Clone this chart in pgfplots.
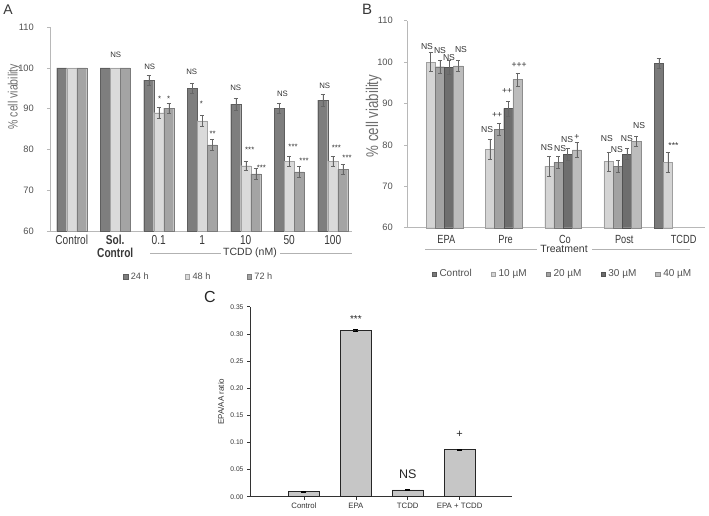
\documentclass[border=0pt]{standalone}
\usepackage{pgfplots}
\pgfplotsset{compat=1.18}
\usepackage{fontspec}
\setmainfont{Liberation Sans}
\newfontfamily\nf{Liberation Sans}[FakeStretch=0.78]
\newcommand{\fs}[1]{\fontsize{#1}{#1}\selectfont}
\definecolor{txt}{HTML}{505050}
\definecolor{lab}{HTML}{383838}
\definecolor{ylab}{HTML}{6E6E6E}
\definecolor{ann}{HTML}{333333}
\definecolor{h24}{HTML}{7E7E7E}
\definecolor{h48}{HTML}{DADADA}
\definecolor{h72}{HTML}{A4A4A4}
\definecolor{bCtl}{HTML}{7A7A7A}
\definecolor{b10}{HTML}{D4D4D4}
\definecolor{b20}{HTML}{A2A2A2}
\definecolor{b30}{HTML}{6E6E6E}
\definecolor{b40}{HTML}{BCBCBC}
\definecolor{cbar}{HTML}{C6C6C6}
\pgfplotsset{
  ebar/.style={/pgfplots/error bars/y dir=both, /pgfplots/error bars/y explicit,
    /pgfplots/error bars/error bar style={line width=0.45pt, black!60},
    /pgfplots/error bars/error mark options={rotate=90, mark size=2pt, line width=0.45pt, black!60}},
  sqleg/.style={/pgfplots/legend image code/.code={\draw[##1,line width=0.3pt] (0pt,-2.3pt) rectangle (4.6pt,2.3pt);}},
  excel/.style={scale only axis, anchor=south west, ybar,
    axis x line*=bottom, axis y line*=left,
    axis line style={black!28, line width=0.5pt},
    ytick={60,70,80,90,100,110}, ymin=60, ymax=110,
    tick align=outside, major tick length=3pt,
    ytick style={black!28, line width=0.5pt}, xtick style={draw=none},
    /pgf/number format/assume math mode=true,
    xticklabel style={anchor=north, inner sep=0pt},
    clip=false},
}
\begin{document}
\begin{tikzpicture}
\path[use as bounding box] (0pt,0pt) rectangle (709pt,515pt);

% ---------------- Panel A ----------------
\begin{axis}[excel, at={(50pt,284pt)}, width=302.3pt, height=204pt,
  xmin=-0.5, xmax=6.45, bar width=10pt,
  yticklabel style={font=\fs{9.3}, text=txt, anchor=east, inner sep=0pt, xshift=-13pt},
  xtick={0,...,6},
  xticklabels={Control,{\bfseries Sol.\\\bfseries Control},0.1,1,10,50,100},
  xticklabel style={font=\nf\fs{13}, text=lab, align=center, yshift=-1pt},
  ylabel={\% cell viability},
  ylabel style={at={(axis description cs:-0.119,0.658)}, anchor=center, font=\nf\fs{13.5}, text=ylab},
  legend columns=3,
  legend style={at={(axis description cs:0.49,-0.225)}, anchor=center, draw=none, fill=none,
    font=\fs{9.2}, text=txt, nodes={inner sep=1pt},
    /tikz/every odd column/.append style={column sep=2pt},
    /tikz/every even column/.append style={column sep=35pt}},
]
\addplot[forget plot, bar shift=-10pt, fill=h24, draw=h24!75!black, line width=0.3pt] coordinates {(0,100) (1,100)};
\addplot[forget plot, bar shift=0pt, fill=h48, draw=h48!75!black, line width=0.3pt] coordinates {(0,100) (1,100)};
\addplot[forget plot, bar shift=10pt, fill=h72, draw=h72!75!black, line width=0.3pt] coordinates {(0,100) (1,100)};
\addplot[bar shift=-10pt, fill=h24, draw=h24!75!black, line width=0.3pt, sqleg, ebar] coordinates
  {(2,97.0)+-(0,1.2) (3,95.0)+-(0,1.3) (4,91.1)+-(0,1.4) (5,90.1)+-(0,1.3) (6,92.1)+-(0,1.4)};
\addplot[bar shift=0pt, fill=h48, draw=h48!75!black, line width=0.3pt, sqleg, ebar] coordinates
  {(2,89.0)+-(0,1.3) (3,87.0)+-(0,1.4) (4,76.0)+-(0,1.2) (5,77.1)+-(0,1.3) (6,77.1)+-(0,1.3)};
\addplot[bar shift=10pt, fill=h72, draw=h72!75!black, line width=0.3pt, sqleg, ebar] coordinates
  {(2,90.1)+-(0,1.2) (3,81.1)+-(0,1.4) (4,74.0)+-(0,1.3) (5,74.5)+-(0,1.3) (6,75.1)+-(0,1.3)};
\legend{24 h, 48 h, 72 h}
\begin{scope}[every node/.style={font=\fs{7.8}, text=ann, inner sep=0pt}]
\node at (axis cs:1.01,103.3) {NS};
\node at (axis cs:1.793,100.3) {NS};
\node at (axis cs:2.023,92.4) {*};
\node at (axis cs:2.23,92.4) {*};
\node at (axis cs:2.759,99.0) {NS};
\node at (axis cs:2.982,91.2) {*};
\node at (axis cs:3.241,83.7) {**};
\node at (axis cs:3.770,95.0) {NS};
\node at (axis cs:4.092,80.0) {***};
\node at (axis cs:4.361,75.5) {***};
\node at (axis cs:4.844,93.6) {NS};
\node at (axis cs:5.087,80.7) {***};
\node at (axis cs:5.340,77.1) {***};
\node at (axis cs:5.816,95.7) {NS};
\node at (axis cs:6.085,80.4) {***};
\node at (axis cs:6.329,77.9) {***};
\end{scope}
\end{axis}

% ---------------- Panel B ----------------
\begin{axis}[excel, at={(407pt,287.3pt)}, width=298pt, height=207pt,
  xmin=-0.553, xmax=4.47, bar width=9.2pt,
  yticklabel style={font=\fs{9.3}, text=txt, anchor=east, inner sep=0pt, xshift=-11pt},
  xtick={0,...,4},
  xticklabels={EPA,Pre,Co,Post,TCDD},
  xticklabel style={font=\nf\fs{11.8}, text=lab, xshift=6.5pt, yshift=-4pt},
  ylabel={\% cell viability},
  ylabel style={at={(axis description cs:-0.112,0.54)}, anchor=center, font=\nf\fs{17}, text=ylab},
  legend columns=5,
  legend style={at={(axis description cs:0.52,-0.224)}, anchor=center, draw=none, fill=none,
    font=\fs{10}, text=txt, nodes={inner sep=1pt},
    /tikz/every odd column/.append style={column sep=2pt},
    /tikz/every even column/.append style={column sep=18pt}},
]
\addplot[bar shift=-18.4pt, fill=bCtl, draw=bCtl!75!black, line width=0.3pt, sqleg, ebar] coordinates
  {(4,99.7)+-(0,1.2)};
\addplot[bar shift=-9.2pt, fill=b10, draw=b10!75!black, line width=0.3pt, sqleg, ebar] coordinates
  {(0,100.0)+-(0,2.3) (1,78.9)+-(0,2.4) (2,74.9)+-(0,2.4) (3,76.0)+-(0,2.3) (4,75.8)+-(0,2.4)};
\addplot[bar shift=0pt, fill=b20, draw=b20!75!black, line width=0.3pt, sqleg, ebar] coordinates
  {(0,98.9)+-(0,1.6) (1,83.8)+-(0,1.4) (2,75.8)+-(0,1.5) (3,74.9)+-(0,1.5)};
\addplot[bar shift=9.2pt, fill=b30, draw=b30!75!black, line width=0.3pt, sqleg, ebar] coordinates
  {(0,98.7)+-(0,1.7) (1,88.8)+-(0,1.8) (2,77.8)+-(0,1.4) (3,77.8)+-(0,1.3)};
\addplot[bar shift=18.4pt, fill=b40, draw=b40!75!black, line width=0.3pt, sqleg, ebar] coordinates
  {(0,99.1)+-(0,1.3) (1,95.8)+-(0,1.6) (2,78.8)+-(0,1.8) (3,80.9)+-(0,1.3)};
\legend{Control, 10 µM, 20 µM, 30 µM, 40 µM}
\begin{scope}[every node/.style={font=\fs{8.6}, text=ann, inner sep=0pt}]
\node at (axis cs:-0.216,103.7) {NS};
\node at (axis cs:0.003,102.8) {NS};
\node at (axis cs:0.155,101.2) {NS};
\node at (axis cs:0.357,103.1) {NS};
\node at (axis cs:0.796,83.8) {NS};
\node at (axis cs:0.965,87.3) {++};
\node at (axis cs:1.133,93.1) {++};
\node at (axis cs:1.336,99.2) {+++};
\node at (axis cs:1.803,79.4) {NS};
\node at (axis cs:2.027,79.2) {NS};
\node at (axis cs:2.145,81.4) {NS};
\node at (axis cs:2.309,81.8) {+};
\node at (axis cs:2.815,81.6) {NS};
\node at (axis cs:2.983,78.8) {NS};
\node at (axis cs:3.152,81.6) {NS};
\node at (axis cs:3.359,84.6) {NS};
\node at (axis cs:3.938,79.8) {***};
\end{scope}
\end{axis}

% ---------------- Panel C ----------------
\begin{axis}[scale only axis, anchor=south west, at={(250pt,18.3pt)}, width=261.6pt, height=190pt,
  ybar, bar width=31pt, bar shift=0pt,
  xmin=-1.04, xmax=4.0, ymin=0, ymax=0.35,
  ytick={0,0.05,0.10,0.15,0.20,0.25,0.30,0.35},
  xtick={0,1,2,3}, xticklabels={Control,EPA,TCDD,EPA + TCDD},
  axis x line*=bottom, axis y line*=left,
  axis line style={black!80, line width=0.6pt},
  tick align=outside, major tick length=3pt,
  tick style={black!80, line width=0.6pt},
  /pgf/number format/assume math mode=true,
  yticklabel style={font=\fs{6.7}, text=black!80, /pgf/number format/.cd, fixed, fixed zerofill, precision=2},
  xticklabel style={font=\fs{7.8}, text=black!80},
  ylabel={EPA/AA ratio},
  ylabel style={at={(axis description cs:-0.111,0.5)}, anchor=center, font=\fs{8}, text=black!80},
  clip=false,
]
\addplot[fill=cbar, draw=black!85, line width=0.6pt,
  error bars/.cd, y dir=both, y explicit,
  error bar style={black, line width=0.6pt},
  error mark options={rotate=90, mark size=2.5pt, black, line width=0.6pt}]
  coordinates {(0,0.0098)+-(0,0.0008) (1,0.307)+-(0,0.0015) (2,0.0125)+-(0,0.0008) (3,0.087)+-(0,0.0008)};
\node[font=\fs{10}, text=black!85] at (axis cs:1,0.327) {***};
\node[font=\fs{12.5}, text=black!85] at (axis cs:2,0.042) {NS};
\node[font=\fs{11}, text=black!85] at (axis cs:3,0.115) {+};
\end{axis}

% ---------------- decorations ----------------
\draw[black!30, line width=0.6pt] (150pt,262pt) -- (221pt,262pt);
\draw[black!30, line width=0.6pt] (280pt,262pt) -- (352pt,262pt);
\node[font=\fs{10.5}, text=lab] at (250pt,262pt) {TCDD (nM)};
\draw[black!30, line width=0.6pt] (425pt,265.7pt) -- (537pt,265.7pt);
\draw[black!30, line width=0.6pt] (592pt,265.7pt) -- (690pt,265.7pt);
\node[font=\fs{10.5}, text=lab] at (564pt,265.7pt) {Treatment};
\node[font=\fs{14}, text=lab] at (8pt,505pt) {A};
\node[font=\fs{15}, text=lab] at (367pt,506pt) {B};
\node[font=\fs{16}, text=black!85] at (210pt,218pt) {C};
\end{tikzpicture}
\end{document}
